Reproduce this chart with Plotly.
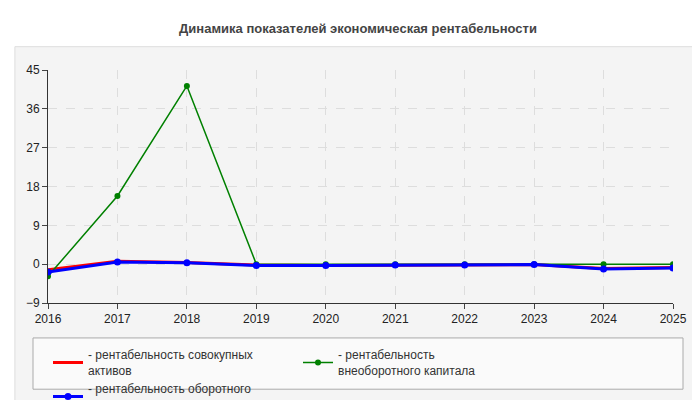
import plotly.graph_objects as go

years = [2016, 2017, 2018, 2019, 2020, 2021, 2022, 2023, 2024, 2025]
sovokupnye = [-1.3, 0.7, 0.4, -0.2, -0.3, -0.2, -0.2, -0.1, -1.0, -0.8]
vneoborotny = [-2.8, 15.8, 41.3, 0.0, 0.0, 0.0, 0.0, 0.0, 0.0, 0.0]
oborotny = [-1.8, 0.5, 0.3, -0.3, -0.3, -0.2, -0.2, -0.1, -1.1, -0.9]
y_ticks = [-9, 0, 9, 18, 27, 36, 45]

names = ['- рентабельность совокупных<br>активов',
         '- рентабельность<br>внеоборотного капитала',
         '- рентабельность оборотного<br>капитала']

fig = go.Figure()
fig.add_trace(go.Scatter(x=years, y=sovokupnye, name=names[0], mode='lines',
                         line=dict(color='red', width=3)))
fig.add_trace(go.Scatter(x=years, y=vneoborotny, name=names[1], mode='lines+markers',
                         line=dict(color='green', width=1.5), marker=dict(size=6)))
fig.add_trace(go.Scatter(x=years, y=oborotny, name=names[2], mode='lines+markers',
                         line=dict(color='blue', width=3), marker=dict(size=7)))

# panel and legend box
fig.add_shape(type='rect', xref='paper', yref='paper', x0=-0.053, x1=1.045, y0=-0.44, y1=1.1,
              fillcolor='#f4f4f4', line=dict(color='#dddddd', width=1), layer='below')
fig.add_shape(type='rect', xref='paper', yref='paper', x0=-0.024, x1=1.016, y0=-0.37, y1=-0.15,
              fillcolor='#fafafa', line=dict(color='#aaaaaa', width=1), layer='below')

fig.update_layout(
    width=700, height=400,
    margin=dict(l=40, r=35, t=62, b=105, autoexpand=False),
    paper_bgcolor='white', plot_bgcolor='#fffff7',
    font=dict(family='Arial, Liberation Sans', size=12, color='#333'),
    title=dict(text='<b>Динамика показателей экономическая рентабельности</b>',
               x=0.5, y=0.95, yanchor='middle', font=dict(size=13, color='#444')),
    showlegend=True,
    legend=dict(orientation='h', x=0.0, y=-0.16, xanchor='left', yanchor='top',
                bgcolor='rgba(0,0,0,0)', entrywidth=205, font=dict(size=12, color='#333')),
    xaxis=dict(range=[2016, 2025], tickvals=years, showgrid=True, gridcolor='#dddddd',
               griddash='dash', showline=True, linecolor='#333', ticks='outside',
               ticklen=5, tickfont=dict(size=12, color='#222'), zeroline=False),
    yaxis=dict(range=[-9, 45], tickvals=y_ticks, showgrid=True, gridcolor='#dddddd',
               griddash='dash', showline=True, linecolor='#333', ticks='outside',
               ticklen=5, tickfont=dict(size=12, color='#222'), zeroline=False),
)

fig.write_html("out.html")
